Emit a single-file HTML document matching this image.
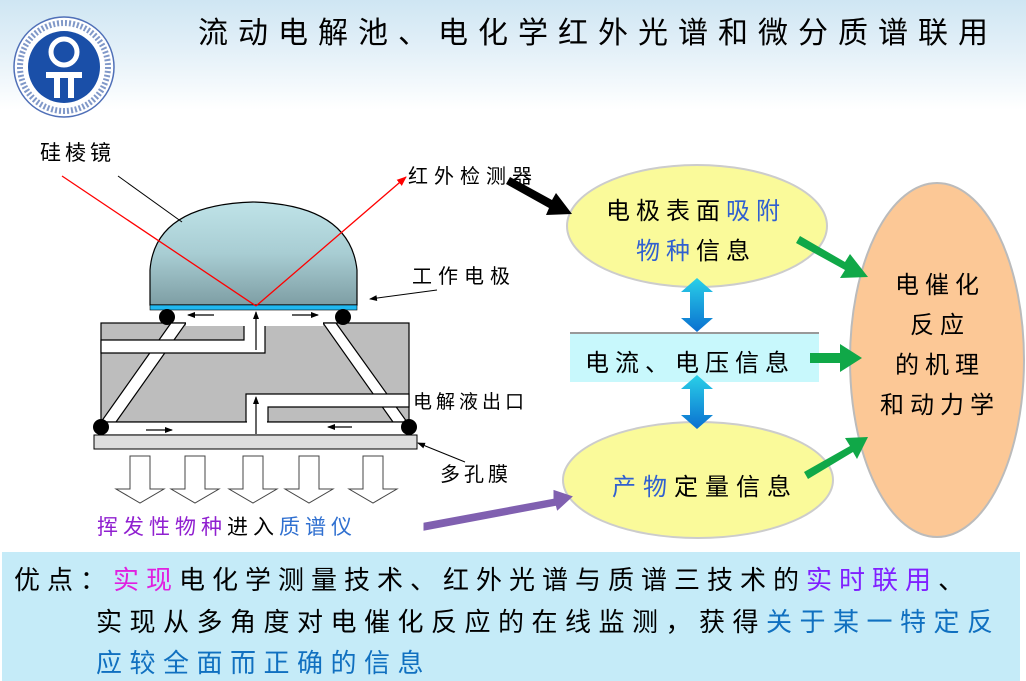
<!DOCTYPE html>
<html><head><meta charset="utf-8"><style>
body{margin:0;width:1026px;height:681px;overflow:hidden;background:#fff;font-family:"Liberation Sans","Noto Sans CJK SC","WenQuanYi Zen Hei",sans-serif;position:relative}
.abs{position:absolute;white-space:nowrap}
.title{display:flex;justify-content:space-between;width:790px}
</style></head><body>
<div class="abs" style="left:0;top:0;width:1026px;height:110px;background:linear-gradient(180deg,#cfe6f3 0%,#e3f0f8 45%,#fff 100%)"></div>
<svg class="abs" style="left:0;top:0" width="1026" height="681" viewBox="0 0 1026 681">
<defs>
<linearGradient id="dome" x1="0" y1="0" x2="0" y2="1"><stop offset="0" stop-color="#bfe3e8"/><stop offset="0.5" stop-color="#a8cdd3"/><stop offset="1" stop-color="#7e9ea4"/></linearGradient>
<linearGradient id="blu" x1="0" y1="0" x2="0" y2="1"><stop offset="0" stop-color="#2ad0e8"/><stop offset="1" stop-color="#0a70d0"/></linearGradient>
<marker id="ah" markerWidth="8" markerHeight="8" refX="7" refY="4" orient="auto" markerUnits="userSpaceOnUse"><path d="M0,1 L8,4 L0,7Z" fill="#000"/></marker>
<marker id="rh" markerWidth="10" markerHeight="10" refX="9" refY="5" orient="auto" markerUnits="userSpaceOnUse"><path d="M0,1 L10,5 L0,9Z" fill="#f00"/></marker>
</defs>
<circle cx="64" cy="67" r="50" fill="#fff" stroke="#5070b8" stroke-width="1.5"/>
<circle cx="64" cy="67" r="44" fill="none" stroke="#8098c8" stroke-width="6" stroke-dasharray="2 2"/>
<circle cx="64" cy="67" r="36" fill="#1a4fa8"/>
<circle cx="64" cy="52" r="13" fill="none" stroke="#fff" stroke-width="5"/>
<rect x="46" y="72" width="36" height="6" fill="#fff"/><rect x="54" y="72" width="6" height="26" fill="#fff"/><rect x="68" y="72" width="6" height="26" fill="#fff"/>
<rect x="2" y="552" width="1018" height="129" fill="#c5ebf8"/>
<rect x="101" y="323" width="308" height="99" fill="#bdbdbd" stroke="#000" stroke-width="1.2"/>
<g fill="#fff" stroke="#000" stroke-width="1.2">
<polygon points="171,323 186,323 116,422 101,422"/>
<polygon points="323,323 336,323 407,422 393,422"/>
<polygon points="101,340 244,340 244,323 265,323 265,353 101,353"/>
<polygon points="246,394 409,394 409,407 268,407 268,422 246,422"/>
<rect x="101" y="422" width="308" height="13"/>
</g>
<rect x="186" y="316" width="137" height="10" fill="#fff"/>
<rect x="102" y="423" width="306" height="11" fill="#fff"/>
<rect x="247" y="406" width="20" height="18" fill="#fff"/>
<rect x="245" y="324" width="19" height="17" fill="#fff"/>
<rect x="94" y="435" width="323" height="14" fill="#ddd" stroke="#000" stroke-width="1"/>
<path d="M150,305 L150,270 Q155,205 253,202 Q350,205 357,270 L357,305Z" fill="url(#dome)" stroke="#000" stroke-width="1.2"/>
<rect x="150" y="305" width="207" height="5" fill="#20b8f0" stroke="#000" stroke-width="0.6"/>
<circle cx="167" cy="317" r="8" fill="#000"/><circle cx="343" cy="317" r="8" fill="#000"/>
<circle cx="101" cy="427" r="8" fill="#000"/><circle cx="409" cy="427" r="8" fill="#000"/>
<g stroke="#000" stroke-width="1.2" marker-end="url(#ah)">
<line x1="214" y1="315" x2="188" y2="315"/><line x1="292" y1="315" x2="318" y2="315"/>
<line x1="256" y1="350" x2="256" y2="312"/><line x1="256" y1="434" x2="256" y2="397"/>
<line x1="146" y1="430" x2="172" y2="430"/><line x1="352" y1="427" x2="328" y2="427"/>
</g>
<line x1="62" y1="176" x2="256" y2="306" stroke="#f00" stroke-width="1.3"/>
<line x1="256" y1="306" x2="406" y2="177" stroke="#f00" stroke-width="1.3" marker-end="url(#rh)"/>
<line x1="118" y1="176" x2="182" y2="222" stroke="#000" stroke-width="1"/>
<line x1="437" y1="290" x2="370" y2="299" stroke="#000" stroke-width="1" marker-end="url(#ah)"/>
<line x1="465" y1="462" x2="418" y2="443" stroke="#000" stroke-width="1" marker-end="url(#ah)"/>
<g fill="#fff" stroke="#444" stroke-width="1">
<path d="M130,456 h20 v33 h14 l-24,14 l-24,-14 h14z"/>
<path d="M185,456 h20 v33 h14 l-24,14 l-24,-14 h14z"/>
<path d="M243,456 h20 v33 h14 l-24,14 l-24,-14 h14z"/>
<path d="M299,456 h20 v33 h14 l-24,14 l-24,-14 h14z"/>
<path d="M363,456 h20 v33 h14 l-24,14 l-24,-14 h14z"/>
</g>
<ellipse cx="937" cy="360" rx="87" ry="177" fill="#fcc896" stroke="#bbb" stroke-width="2"/>
<ellipse cx="697" cy="226" rx="130" ry="61" fill="#fafa9a" stroke="#ccc" stroke-width="2"/>
<ellipse cx="698" cy="480" rx="135" ry="58" fill="#fafa9a" stroke="#ccc" stroke-width="2"/>
<rect x="570" y="333" width="249" height="49" fill="#c8f8fc"/>
<line x1="570" y1="333" x2="819" y2="333" stroke="#999" stroke-width="2"/>
<path d="M697,278 l16,14 h-9 v26 h9 l-16,14 l-16,-14 h9 v-26 h-9z" fill="url(#blu)"/>
<path d="M697,375 l16,14 h-9 v26 h9 l-16,14 l-16,-14 h9 v-26 h-9z" fill="url(#blu)"/>
<g fill="#10a848">
<path d="M800,236 L845,262 L850,254 L868,277 L840,278 L845,270 L796,243Z"/>
<path d="M810,353 h30 v-9 l22,14 l-22,14 v-9 h-30z"/>
<path d="M804,472 L850,446 L845,438 L868,437 L857,459 L853,452 L808,479Z"/>
</g>
<path d="M510,177 L552,200 L556,193 L572,214 L546,215 L549,208 L506,184Z" fill="#000"/>
<path d="M425,524 Q500,510 555,500 L555,492 L570,497 L558,508 L557,504 Q500,515 425,529Z" fill="#8060b0" stroke="#8060b0" stroke-width="3"/>
</svg>
<div class="abs title" style="left:198px;top:8px;font-size:30px;color:#000"><span>流</span><span>动</span><span>电</span><span>解</span><span>池</span><span>、</span><span>电</span><span>化</span><span>学</span><span>红</span><span>外</span><span>光</span><span>谱</span><span>和</span><span>微</span><span>分</span><span>质</span><span>谱</span><span>联</span><span>用</span></div>
<div class="abs" style="left:40px;top:137px;font-size:21px;letter-spacing:4px">硅棱镜</div>
<div class="abs" style="left:408px;top:160px;font-size:20px;letter-spacing:6px">红外检测器</div>
<div class="abs" style="left:412px;top:260px;font-size:20px;letter-spacing:6px">工作电极</div>
<div class="abs" style="left:413px;top:387px;font-size:19px;letter-spacing:4px">电解液出口</div>
<div class="abs" style="left:440px;top:458px;font-size:20px;letter-spacing:4px">多孔膜</div>
<div class="abs" style="left:97px;top:511px;font-size:21px;letter-spacing:5px"><span style="color:#9020d0">挥发性物种</span>进入<span style="color:#3070d0">质谱仪</span></div>
<div class="abs" style="left:606px;top:191px;font-size:24px;letter-spacing:6px">电极表面<span style="color:#3060d0">吸附</span></div>
<div class="abs" style="left:636px;top:231px;font-size:24px;letter-spacing:6px"><span style="color:#3060d0">物种</span>信息</div>
<div class="abs" style="left:585px;top:343px;font-size:24px;letter-spacing:6px">电流、电压信息</div>
<div class="abs" style="left:612px;top:467px;font-size:24px;letter-spacing:7px"><span style="color:#3060d0">产物</span>定量信息</div>
<div class="abs" style="left:860px;top:266px;font-size:24px;letter-spacing:6px;line-height:40px;text-align:center;width:160px">电催化<br>反应<br>的机理<br>和动力学</div>
<div class="abs" style="left:14px;top:560px;font-size:26px;letter-spacing:7px">优点：<span style="color:#e020e0">实现</span>电化学测量技术、红外光谱与质谱三技术的<span style="color:#8020ff">实时联用</span>、</div>
<div class="abs" style="left:96px;top:602px;font-size:26px;letter-spacing:7.5px">实现从多角度对电催化反应的在线监测，获得<span style="color:#1070c0">关于某一特定反</span></div>
<div class="abs" style="left:96px;top:643px;font-size:26px;letter-spacing:7.5px;color:#1070c0">应较全面而正确的信息</div>
</body></html>
